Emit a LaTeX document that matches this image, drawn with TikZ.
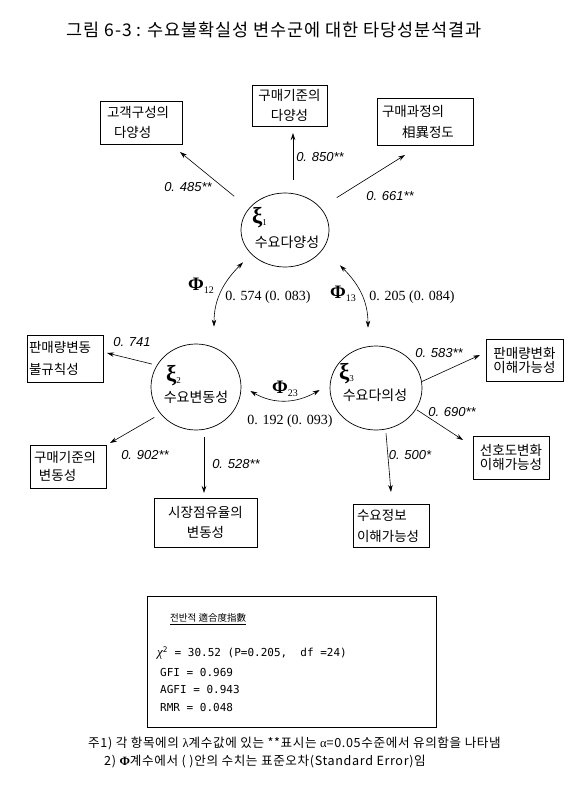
\documentclass[tikz,border=0pt]{standalone}
\usepackage{fontspec}
\setmainfont{Liberation Serif}
\setsansfont{Liberation Sans}
\setmonofont{DejaVu Sans Mono}
\newfontfamily\kr{Noto Sans CJK KR}
\newfontfamily\krls[LetterSpace=5]{Noto Sans CJK KR}
\usetikzlibrary{arrows.meta,shapes.geometric}
\newcommand\kfs[1]{\kr\fontsize{13.5}{#1}\selectfont}
\newcommand\xisym[1]{{\bfseries\fontsize{23}{23}\selectfont ξ}{\fontsize{9}{9}\selectfont\raisebox{-2pt}{#1}}}
\tikzset{
  kbox/.style={draw, line width=0.7pt, inner ysep=0pt},
  lat/.style={draw, ellipse, line width=0.7pt, inner sep=0pt},
  arr/.style={-{Stealth[length=7pt,width=4.5pt]}, line width=0.6pt},
  darr/.style={{Stealth[length=7pt,width=4.5pt]}-{Stealth[length=7pt,width=4.5pt]}, line width=0.6pt},
  load/.style={inner sep=0pt, font=\sffamily\itshape\fontsize{13}{13}\selectfont},
  coef/.style={inner sep=0pt, font=\rmfamily\fontsize{14}{14}\selectfont},
  phi/.style={inner sep=0pt},
  xi/.style={anchor=west, inner sep=0pt},
  lname/.style={inner sep=0pt, font=\kr\fontsize{14}{14}\selectfont},
  stat/.style={anchor=west, inner sep=0pt, font=\ttfamily\fontsize{11}{11}\selectfont},
  note/.style={anchor=west, inner sep=0pt, font=\krls\fontsize{12.6}{12.6}\selectfont},
}
\begin{document}
\begin{tikzpicture}[x=1pt,y=1pt]
\useasboundingbox (0,0) rectangle (582,-789);
% title
\node[inner sep=0pt, font=\krls\fontsize{17.5}{17.5}\selectfont] (title) at (274,-30) {그림 6-3 : 수요불확실성 변수군에 대한 타당성분석결과};

% latent variables
\node[lat, minimum width=88pt, minimum height=74pt] (x1) at (285,-230) {};
\node[lat, minimum width=90pt, minimum height=86pt] (x2) at (196,-387) {};
\node[lat, minimum width=92pt, minimum height=84pt] (x3) at (376,-388) {};
\node[xi] (xi1) at (252,-218) {\xisym{1}};
\node[lname] (k1) at (287,-242) {수요다양성};
\node[xi] (xi2) at (166,-376) {\xisym{2}};
\node[lname] (k2) at (196,-397) {수요변동성};
\node[xi] (xi3) at (339,-374) {\xisym{3}};
\node[lname] (k3) at (375,-395) {수요다의성};

% indicator boxes
\node[kbox, minimum width=82pt, minimum height=43pt, inner xsep=7pt, text width=68pt, align=left, font=\kfs{20}] (b1) at (141,-122.5) {고객구성의\\\hspace*{7pt}다양성};
\node[kbox, minimum width=75pt, minimum height=41pt, inner xsep=2pt, text width=71pt, align=center, font=\kfs{20}] (b2) at (289.5,-105.5) {구매기준의\\다양성};
\node[kbox, minimum width=96pt, minimum height=47pt, inner xsep=5pt, text width=86pt, align=left, font=\kfs{21}] (b3) at (425,-121.5) {구매과정의\\\hspace*{20pt}相異정도};
\node[kbox, minimum width=76pt, minimum height=47pt, inner xsep=2pt, text width=72pt, align=left, font=\kfs{22}] (b4) at (65,-358.5) {판매량변동\\불규칙성};
\node[kbox, minimum width=76pt, minimum height=43pt, inner xsep=4pt, text width=68pt, align=left, font=\kfs{17.5}] (b5) at (68,-466.5) {구매기준의\\\hspace*{5pt}변동성};
\node[kbox, minimum width=103pt, minimum height=49pt, inner xsep=3pt, text width=97pt, align=center, font=\kfs{20}] (b6) at (205.5,-522.5) {시장점유율의\\변동성};
\node[kbox, minimum width=77pt, minimum height=42pt, inner xsep=2pt, text width=73pt, align=center, font=\kfs{14}] (b7) at (524.5,-360) {판매량변화\\이해가능성};
\node[kbox, minimum width=76pt, minimum height=43pt, inner xsep=2pt, text width=72pt, align=center, font=\kfs{14}] (b8) at (511,-457.5) {선호도변화\\이해가능성};
\node[kbox, minimum width=76pt, minimum height=43pt, inner xsep=4pt, text width=68pt, align=left, font=\kfs{21}] (b9) at (391,-525.5) {수요정보\\이해가능성};

% arrow tips
\coordinate (t1) at (180,-152);
\coordinate (t2) at (293,-133);
\coordinate (t3) at (405,-155);
\coordinate (t4) at (107,-353);
\coordinate (t5) at (110,-443);
\coordinate (t6) at (204,-493);
\coordinate (t7) at (480,-355);
\coordinate (t8) at (463,-440);
\coordinate (t9) at (391,-492);

% loadings
\draw[arr, shorten <=19pt] (x1.149) -- (t1);
\draw[arr] ([shift={(8,13)}]x1.north) -- (t2);
\draw[arr, shorten <=19pt] (x1.32) -- (t3);
\draw[arr, shorten <=5pt] (x2.151) -- (t4);
\draw[arr, shorten <=7pt] (x2.217) -- (t5);
\draw[arr] ([shift={(8,-7)}]x2.south) -- (t6);
\draw[arr] (x3.8) -- (t7);
\draw[arr, shorten <=1pt] (x3.332) -- (t8);
\draw[arr] ([shift={(10,-3)}]x3.south) -- (t9);

\node[load] (l1) at (188,-187) {0. 485**};
\node[load] (l2) at (320,-157) {0. 850**};
\node[load] (l3) at (390,-196) {0. 661**};
\node[load] (l4) at (132,-342) {0. 741};
\node[load] (l5) at (145,-455) {0. 902**};
\node[load] (l6) at (236,-464) {0. 528**};
\node[load] (l7) at (439,-353) {0. 583**};
\node[load] (l8) at (452,-412) {0. 690**};
\node[load] (l9) at (410,-455) {0. 500*};

% correlations
\draw[darr] ([shift={(18,17)}]x2.north) to[out=90,in=225] ([shift={(-42,5)}]x1.south);
\draw[darr] ([shift={(-8,18)}]x3.north) to[out=90,in=-45] ([shift={(55,2)}]x1.south);
\draw[darr] ([shift={(9,-4)}]x2.east) to[out=-30,in=210] ([shift={(-10,-2)}]x3.west);

\node[phi] (p12) at (201,-286) {{\bfseries\fontsize{19}{19}\selectfont Φ}{\fontsize{10}{10}\selectfont\raisebox{-3pt}{12}}};
\node[phi] (p13) at (343,-294) {{\bfseries\fontsize{19}{19}\selectfont Φ}{\fontsize{10}{10}\selectfont\raisebox{-3pt}{13}}};
\node[phi] (p23) at (285,-389) {{\bfseries\fontsize{19}{19}\selectfont Φ}{\fontsize{10}{10}\selectfont\raisebox{-3pt}{23}}};
\node[coef] (c12) at (268,-297) {0. 574 (0. 083)};
\node[coef] (c13) at (412,-297) {0. 205 (0. 084)};
\node[coef] (c23) at (290,-421) {0. 192 (0. 093)};

% fit box
\node[draw, line width=0.7pt, minimum width=289pt, minimum height=131pt, inner sep=0pt] (fitbox) at (291.5,-661.5) {};
\node[anchor=west, inner sep=0pt, font=\kr\fontsize{9.5}{9.5}\selectfont] (fh) at (170,-619) {\underline{전반적 適合度指數}};
\node[stat] (s1) at (157,-653) {{\rmfamily\itshape\fontsize{13}{13}\selectfont χ}\textsuperscript{2} = 30.52\ (P=0.205,\ \ df =24)};
\node[stat] (s2) at (160,-672) {GFI = 0.969};
\node[stat] (s3) at (160,-689) {AGFI = 0.943};
\node[stat] (s4) at (160,-707) {RMR = 0.048};

% notes
\node[note] (n1) at (88,-743) {주1) 각 항목에의 {\rmfamily λ}계수값에 있는 **표시는 {\rmfamily α}=0.05수준에서 유의함을 나타냄};
\node[note] (n2) at (104,-762) {2) {\rmfamily\bfseries Φ}계수에서 ( )안의 수치는 표준오차(Standard Error)임};
\end{tikzpicture}
\end{document}
